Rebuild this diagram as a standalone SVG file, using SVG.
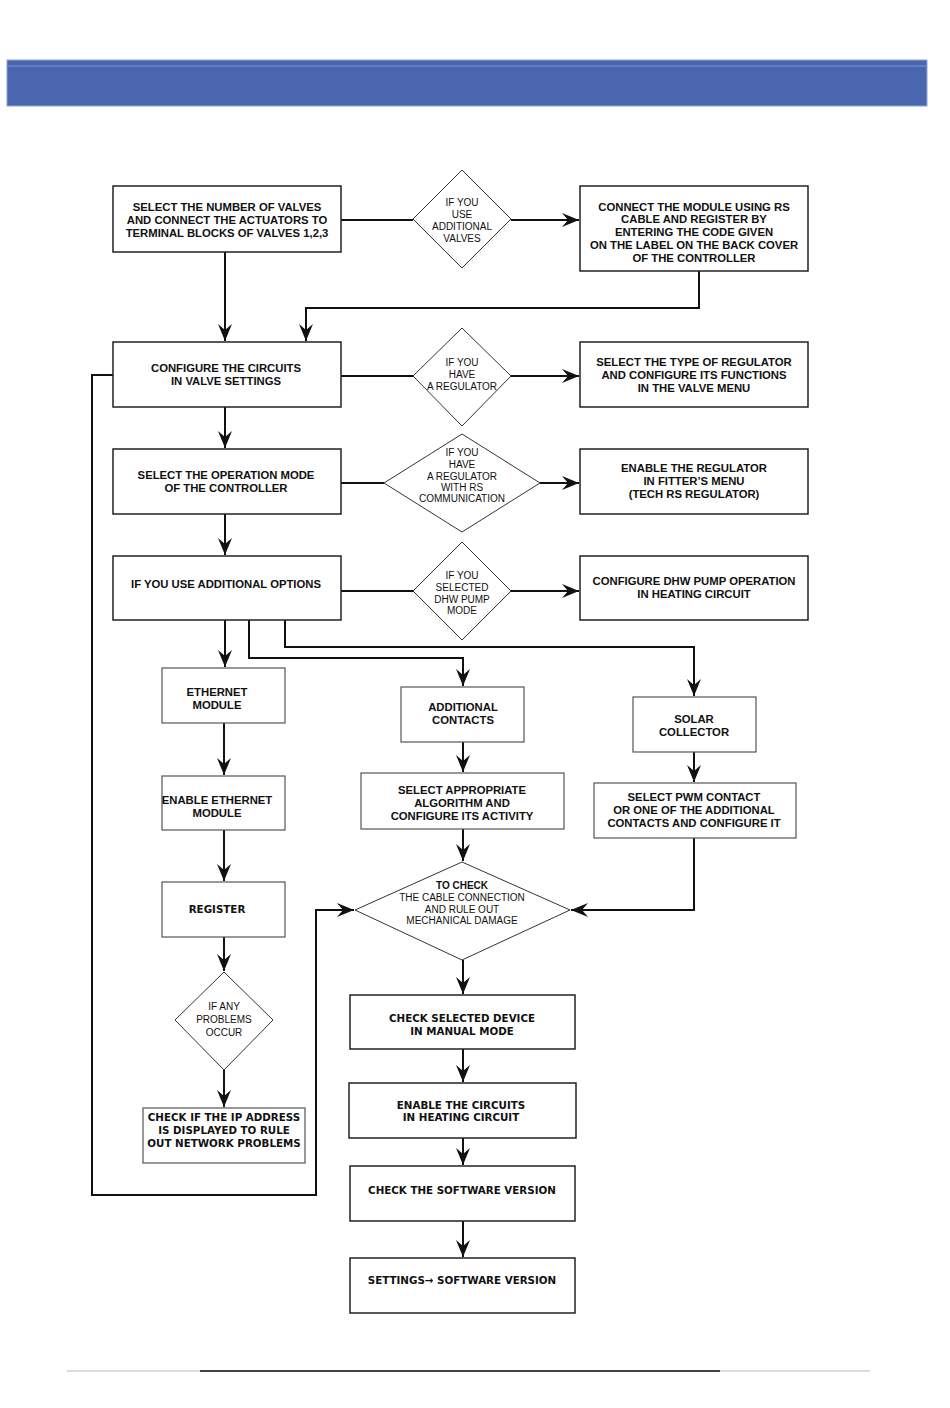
<svg xmlns="http://www.w3.org/2000/svg" width="950" height="1408" viewBox="0 0 950 1408">
<style>
.bx{fill:#fff;stroke:#222;stroke-width:1.5}
.sb{fill:#fff;stroke:#555;stroke-width:1.2}
.dm{fill:#fff;stroke:#333;stroke-width:1}
.t{font-family:"Liberation Sans",Arial,sans-serif;font-weight:bold;font-size:11.3px;fill:#111;text-anchor:middle}
.w{font-family:"DejaVu Sans",Verdana,sans-serif;font-weight:bold;font-size:10.3px;fill:#111;text-anchor:middle}
.d{font-family:"Liberation Sans",Arial,sans-serif;font-size:10px;fill:#111;text-anchor:middle}
.c{fill:none;stroke:#111;stroke-width:2}
</style>
<defs>
<marker id="ar" markerUnits="userSpaceOnUse" markerWidth="18" markerHeight="14" refX="17" refY="7" orient="auto">
<path d="M0,0 L17,7 L0,14 L6,7 Z" fill="#111"/>
</marker>
</defs>
<rect width="950" height="1408" fill="#fff"/>
<g id="header">
<rect x="7" y="60" width="920" height="46" fill="#4a66ae" stroke="#8da2d6" stroke-width="1"/>
<line x1="8" y1="66" x2="926" y2="66" stroke="#7a92cf" stroke-width="1"/>
</g>
<g id="connectors">
<line class="c" x1="341" y1="220" x2="413" y2="220"/>
<line class="c" x1="511" y1="220" x2="579" y2="220" marker-end="url(#ar)"/>
<line class="c" x1="225" y1="252" x2="225" y2="341" marker-end="url(#ar)"/>
<polyline class="c" points="699,271 699,308 306,308 306,341" marker-end="url(#ar)"/>
<line class="c" x1="341" y1="376" x2="413" y2="376"/>
<line class="c" x1="511" y1="376" x2="579" y2="376" marker-end="url(#ar)"/>
<line class="c" x1="225" y1="407" x2="225" y2="448" marker-end="url(#ar)"/>
<line class="c" x1="341" y1="483" x2="384" y2="483"/>
<line class="c" x1="540" y1="483" x2="579" y2="483" marker-end="url(#ar)"/>
<line class="c" x1="225" y1="514" x2="225" y2="555" marker-end="url(#ar)"/>
<line class="c" x1="341" y1="591" x2="413" y2="591"/>
<line class="c" x1="511" y1="591" x2="579" y2="591" marker-end="url(#ar)"/>
<line class="c" x1="225" y1="620" x2="225" y2="667" marker-end="url(#ar)"/>
<polyline class="c" points="249,620 249,658 463,658 463,686" marker-end="url(#ar)"/>
<polyline class="c" points="285,620 285,647 694,647 694,696" marker-end="url(#ar)"/>
<line class="c" x1="224" y1="723" x2="224" y2="775" marker-end="url(#ar)"/>
<line class="c" x1="224" y1="830" x2="224" y2="881" marker-end="url(#ar)"/>
<line class="c" x1="224" y1="937" x2="224" y2="971" marker-end="url(#ar)"/>
<line class="c" x1="224" y1="1070" x2="224" y2="1107" marker-end="url(#ar)"/>
<line class="c" x1="463" y1="742" x2="463" y2="772" marker-end="url(#ar)"/>
<line class="c" x1="463" y1="829" x2="463" y2="861" marker-end="url(#ar)"/>
<line class="c" x1="694" y1="752" x2="694" y2="782" marker-end="url(#ar)"/>
<polyline class="c" points="694,838 694,910 571,910" marker-end="url(#ar)"/>
<polyline class="c" points="113,375 92,375 92,1195 316,1195 316,910 354,910" marker-end="url(#ar)"/>
<line class="c" x1="463" y1="960" x2="463" y2="994" marker-end="url(#ar)"/>
<line class="c" x1="463" y1="1049" x2="463" y2="1082" marker-end="url(#ar)"/>
<line class="c" x1="463" y1="1138" x2="463" y2="1165" marker-end="url(#ar)"/>
<line class="c" x1="463" y1="1221" x2="463" y2="1257" marker-end="url(#ar)"/>
</g>
<g id="n1"><rect class="bx" x="113" y="186" width="228" height="66"/>
<text class="t" x="227" y="211">SELECT THE NUMBER OF VALVES</text>
<text class="t" x="227" y="224">AND CONNECT THE ACTUATORS TO</text>
<text class="t" x="227" y="237">TERMINAL BLOCKS OF VALVES 1,2,3</text></g>
<g id="d1"><polygon class="dm" points="462,170 511,219 462,268 413,219"/>
<text class="d" x="462" y="206">IF YOU</text><text class="d" x="462" y="218">USE</text>
<text class="d" x="462" y="230">ADDITIONAL</text><text class="d" x="462" y="242">VALVES</text></g>
<g id="n2"><rect class="bx" x="580" y="186" width="228" height="85"/>
<text class="t" x="694" y="211">CONNECT THE MODULE USING RS</text>
<text class="t" x="694" y="223">CABLE AND REGISTER BY</text>
<text class="t" x="694" y="236">ENTERING THE CODE GIVEN</text>
<text class="t" x="694" y="249">ON THE LABEL ON THE BACK COVER</text>
<text class="t" x="694" y="262">OF THE CONTROLLER</text></g>
<g id="n3"><rect class="bx" x="113" y="342" width="228" height="65"/>
<text class="t" x="226" y="372">CONFIGURE THE CIRCUITS</text>
<text class="t" x="226" y="385">IN VALVE SETTINGS</text></g>
<g id="d2"><polygon class="dm" points="462,328 511,376 462,426 413,376"/>
<text class="d" x="462" y="366">IF YOU</text><text class="d" x="462" y="378">HAVE</text>
<text class="d" x="462" y="390">A REGULATOR</text></g>
<g id="n4"><rect class="bx" x="580" y="342" width="228" height="65"/>
<text class="t" x="694" y="366">SELECT THE TYPE OF REGULATOR</text>
<text class="t" x="694" y="379">AND CONFIGURE ITS FUNCTIONS</text>
<text class="t" x="694" y="392">IN THE VALVE MENU</text></g>
<g id="n5"><rect class="bx" x="113" y="449" width="228" height="65"/>
<text class="t" x="226" y="479">SELECT THE OPERATION MODE</text>
<text class="t" x="226" y="492">OF THE CONTROLLER</text></g>
<g id="d3"><polygon class="dm" points="462,434 540,483 462,532 384,483"/>
<text class="d" x="462" y="456">IF YOU</text><text class="d" x="462" y="468">HAVE</text>
<text class="d" x="462" y="480">A REGULATOR</text><text class="d" x="462" y="491">WITH RS</text>
<text class="d" x="462" y="502">COMMUNICATION</text></g>
<g id="n6"><rect class="bx" x="580" y="449" width="228" height="65"/>
<text class="t" x="694" y="472">ENABLE THE REGULATOR</text>
<text class="t" x="694" y="485">IN FITTER’S MENU</text>
<text class="t" x="694" y="498">(TECH RS REGULATOR)</text></g>
<g id="n7"><rect class="bx" x="113" y="556" width="228" height="64"/>
<text class="t" x="226" y="588">IF YOU USE ADDITIONAL OPTIONS</text></g>
<g id="d4"><polygon class="dm" points="462,542 511,591 462,640 413,591"/>
<text class="d" x="462" y="579">IF YOU</text><text class="d" x="462" y="591">SELECTED</text>
<text class="d" x="462" y="603">DHW PUMP</text><text class="d" x="462" y="614">MODE</text></g>
<g id="n8"><rect class="bx" x="580" y="556" width="228" height="64"/>
<text class="t" x="694" y="585">CONFIGURE DHW PUMP OPERATION</text>
<text class="t" x="694" y="598">IN HEATING CIRCUIT</text></g>
<g id="n9"><rect class="sb" x="162" y="668" width="123" height="55"/>
<text class="t" x="217" y="696">ETHERNET</text><text class="t" x="217" y="709">MODULE</text></g>
<g id="n10"><rect class="sb" x="162" y="776" width="123" height="54"/>
<text class="t" x="217" y="804">ENABLE ETHERNET</text><text class="t" x="217" y="817">MODULE</text></g>
<g id="n11"><rect class="sb" x="162" y="882" width="123" height="55"/>
<text class="w" x="217" y="913">REGISTER</text></g>
<g id="d5"><polygon class="dm" points="224,972 273,1020 224,1070 175,1020"/>
<text class="d" x="224" y="1010">IF ANY</text><text class="d" x="224" y="1023">PROBLEMS</text>
<text class="d" x="224" y="1036">OCCUR</text></g>
<g id="n12"><rect class="sb" x="143" y="1108" width="162" height="55"/>
<text class="w" x="224" y="1121">CHECK IF THE IP ADDRESS</text>
<text class="w" x="224" y="1134">IS DISPLAYED TO RULE</text>
<text class="w" x="224" y="1147">OUT NETWORK PROBLEMS</text></g>
<g id="n13"><rect class="sb" x="401" y="687" width="123" height="55"/>
<text class="t" x="463" y="711">ADDITIONAL</text><text class="t" x="463" y="724">CONTACTS</text></g>
<g id="n14"><rect class="sb" x="361" y="773" width="203" height="56"/>
<text class="t" x="462" y="794">SELECT APPROPRIATE</text>
<text class="t" x="462" y="807">ALGORITHM AND</text>
<text class="t" x="462" y="820">CONFIGURE ITS ACTIVITY</text></g>
<g id="n15"><rect class="sb" x="633" y="697" width="123" height="55"/>
<text class="t" x="694" y="723">SOLAR</text><text class="t" x="694" y="736">COLLECTOR</text></g>
<g id="n16"><rect class="sb" x="594" y="783" width="202" height="55"/>
<text class="t" x="694" y="801">SELECT PWM CONTACT</text>
<text class="t" x="694" y="814">OR ONE OF THE ADDITIONAL</text>
<text class="t" x="694" y="827">CONTACTS AND CONFIGURE IT</text></g>
<g id="d6"><polygon class="dm" points="462,862 570,910 462,960 355,910"/>
<text class="d" x="462" y="889" font-weight="bold">TO CHECK</text>
<text class="d" x="462" y="901">THE CABLE CONNECTION</text>
<text class="d" x="462" y="913">AND RULE OUT</text>
<text class="d" x="462" y="924">MECHANICAL DAMAGE</text></g>
<g id="n17"><rect class="bx" x="350" y="995" width="225" height="54"/>
<text class="w" x="462" y="1022">CHECK SELECTED DEVICE</text>
<text class="w" x="462" y="1035">IN MANUAL MODE</text></g>
<g id="n18"><rect class="bx" x="349" y="1083" width="227" height="55"/>
<text class="w" x="461" y="1109">ENABLE THE CIRCUITS</text>
<text class="w" x="461" y="1121">IN HEATING CIRCUIT</text></g>
<g id="n19"><rect class="bx" x="350" y="1166" width="225" height="55"/>
<text class="w" x="462" y="1194">CHECK THE SOFTWARE VERSION</text></g>
<g id="n20"><rect class="bx" x="350" y="1258" width="225" height="55"/>
<text class="w" x="462" y="1284">SETTINGS→ SOFTWARE VERSION</text></g>
<g id="footer">
<line x1="67" y1="1371" x2="870" y2="1371" stroke="#bbb" stroke-width="1.2"/>
<line x1="200" y1="1371" x2="720" y2="1371" stroke="#111" stroke-width="1.4"/>
</g>
</svg>
